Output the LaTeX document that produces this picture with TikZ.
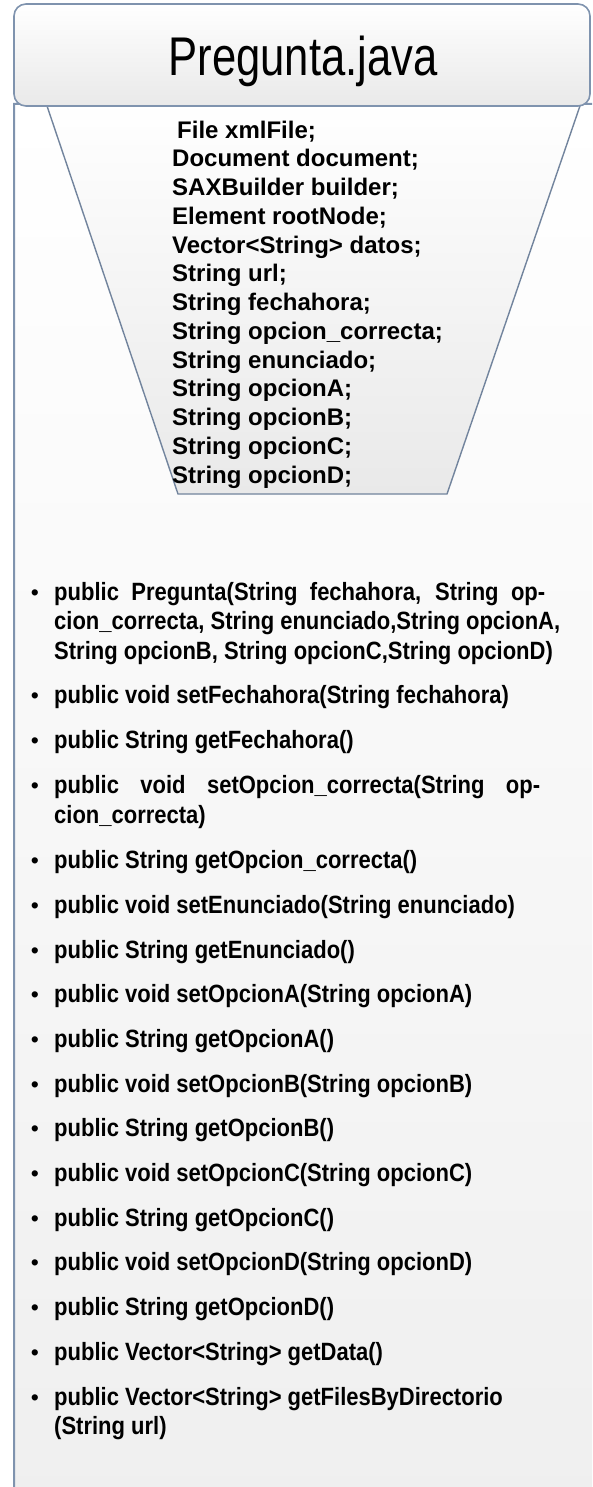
\documentclass[tikz,border=0pt]{standalone}
\usepackage{fontspec}
\setmainfont{Liberation Sans}
\newfontfamily\titlefam[FakeStretch=0.80]{Liberation Sans}
\newfontfamily\narrowfam[FakeStretch=0.88]{Liberation Sans}
\definecolor{frameblue}{HTML}{7F93AE}
\definecolor{panelgray}{HTML}{EFEFEF}
\definecolor{boxgray}{HTML}{E9E9E9}
\begin{document}
\begin{tikzpicture}[x=1pt,y=-1pt,
  titlebox/.style={draw=frameblue, line width=1.6pt, rounded corners=12pt,
    top color=white, bottom color=boxgray, inner sep=0pt},
  titletext/.style={font=\titlefam\fontsize{54.5}{60}\selectfont, inner sep=0pt},
  attrs/.style={anchor=base west, inner sep=0pt, align=left,
    font=\bfseries\fontsize{24}{28.75}\selectfont},
  method/.style={anchor=base west, inner sep=0pt, align=left,
    font=\narrowfam\bfseries\fontsize{25}{29.5}\selectfont},
  bul/.style={anchor=base, inner sep=0pt, font=\fontsize{23}{23}\selectfont}]
\useasboundingbox (0,0) rectangle (592,1487);
\begin{scope}
  \clip (0,0) rectangle (592,1487);
  % class body panel, running off the right and bottom edges
  \shade[top color=white, bottom color=panelgray] (14,104) rectangle (640,1520);
  \draw[frameblue, line width=2pt] (640,104) -- (14,104)
    [rounded corners=12pt] -- (14,1520) -- (640,1520);
  % attribute funnel
  \draw[frameblue!90!black, line width=1.4pt, top color=white, bottom color=boxgray]
    (45,100) -- (582,100) -- (447,494) -- (178,494) -- cycle;
  % class name header
  \node[titlebox, minimum width=576pt, minimum height=102pt] (header) at (302,55) {};
  \node[titletext, anchor=base] (title) at (303,76) {Pregunta.java};
\end{scope}

% attributes (a multi-line node sits on the baseline of its last line)
\node[attrs] (fields) at (172,483) {\hspace{5pt}File xmlFile;\\
Document document;\\
SAXBuilder builder;\\
Element rootNode;\\
Vector<String> datos;\\
String url;\\
String fechahora;\\
String opcion\_correcta;\\
String enunciado;\\
String opcionA;\\
String opcionB;\\
String opcionC;\\
String opcionD;};

% methods
\foreach \y in {600,703.5,748.5,793.5,868,913,958,1002.5,1047,1092,1136.5,1181,1226,1270.5,1315,1360,1405}
  \node[bul] at (35,\y) {\textbullet};

\node[method] (m1) at (54,659) {\makebox[491pt][s]{public Pregunta(String fechahora, String op-}\\
\makebox[506pt][s]{cion\_correcta, String enunciado,String opcionA,}\\
String opcionB, String opcionC,String opcionD)};
\node[method] (m2) at (54,703.5) {public void setFechahora(String fechahora)};
\node[method] (m3) at (54,748.5) {public String getFechahora()};
\node[method] (m4) at (54,823) {\makebox[486pt][s]{public void setOpcion\_correcta(String op-}\\
cion\_correcta)};
\node[method] (m5) at (54,868) {public String getOpcion\_correcta()};
\node[method] (m6) at (54,913) {public void setEnunciado(String enunciado)};
\node[method] (m7) at (54,958) {public String getEnunciado()};
\node[method] (m8) at (54,1002.5) {public void setOpcionA(String opcionA)};
\node[method] (m9) at (54,1047) {public String getOpcionA()};
\node[method] (m10) at (54,1092) {public void setOpcionB(String opcionB)};
\node[method] (m11) at (54,1136.5) {public String getOpcionB()};
\node[method] (m12) at (54,1181) {public void setOpcionC(String opcionC)};
\node[method] (m13) at (54,1226) {public String getOpcionC()};
\node[method] (m14) at (54,1270.5) {public void setOpcionD(String opcionD)};
\node[method] (m15) at (54,1315) {public String getOpcionD()};
\node[method] (m16) at (54,1360) {public Vector<String> getData()};
\node[method] (m17) at (54,1434.5) {public Vector<String> getFilesByDirectorio\\
(String url)};
\end{tikzpicture}
\end{document}
